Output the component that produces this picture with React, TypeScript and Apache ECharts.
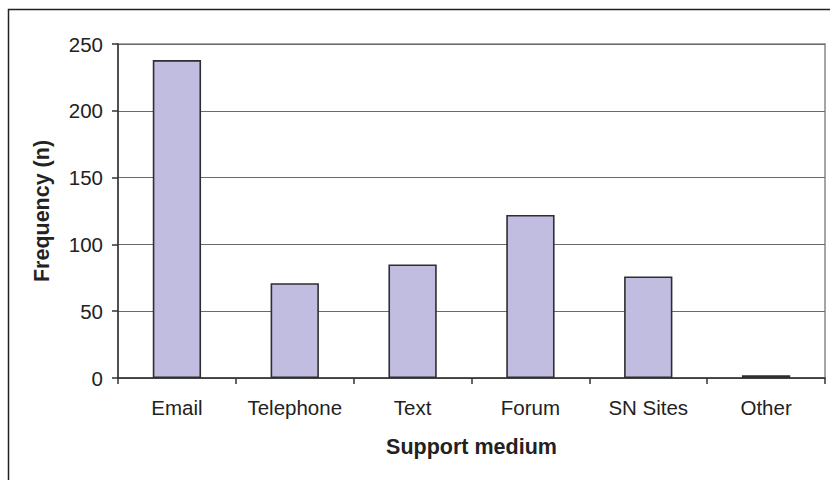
import React, { useEffect, useRef } from "react";
import * as echarts from "echarts";

const categories = ["Email", "Telephone", "Text", "Forum", "SN Sites", "Other"];
const frequency = [238, 71, 85, 122, 76, 2];
const yTicks = { min: 0, max: 250, interval: 50 };
const xTitle = "Support medium";
const yTitle = "Frequency (n)";

export default function App() {
  const ref = useRef<HTMLDivElement>(null);
  useEffect(() => {
    const chart = echarts.init(ref.current!, null, { renderer: "svg" });
    const font = "'Liberation Sans', Arial, sans-serif";
    chart.setOption({
      animation: false,
      backgroundColor: "#ffffff",
      textStyle: { fontFamily: font },
      grid: {
        left: 118,
        right: 5,
        top: 44,
        bottom: 102,
        show: true,
        borderColor: "#a6a6a6",
        borderWidth: 2,
        backgroundColor: "transparent",
      },
      graphic: [
        {
          type: "rect",
          shape: { x: 8.5, y: 9.5, width: 900, height: 600 },
          style: { fill: "none", stroke: "#222", lineWidth: 1.5 },
          silent: true,
        },
      ],
      xAxis: {
        type: "category",
        data: categories,
        name: xTitle,
        nameLocation: "middle",
        nameGap: 58,
        nameTextStyle: { fontSize: 21.5, fontWeight: "bold", color: "#222", fontFamily: font },
        axisLine: { show: true, lineStyle: { color: "#333", width: 1.5 } },
        axisTick: { show: true, interval: 0, length: 6, alignWithLabel: false, lineStyle: { color: "#333", width: 1.5 } },
        axisLabel: { interval: 0, hideOverlap: false, fontSize: 20.5, color: "#222", margin: 19, fontFamily: font },
        splitLine: { show: false },
      },
      yAxis: {
        type: "value",
        min: yTicks.min,
        max: yTicks.max,
        interval: yTicks.interval,
        name: yTitle,
        nameLocation: "middle",
        nameGap: 65,
        nameTextStyle: { fontSize: 21.5, fontWeight: "bold", color: "#222", fontFamily: font },
        axisLine: { show: true, lineStyle: { color: "#333", width: 1.5 } },
        axisTick: { show: true, length: 6, lineStyle: { color: "#333", width: 1.5 } },
        axisLabel: { fontSize: 20.5, color: "#222", margin: 15, fontFamily: font },
        splitLine: { show: true, lineStyle: { color: "#6a6a6a", width: 1.2 } },
      },
      series: [
        {
          type: "bar",
          data: frequency,
          barWidth: "41%",
          itemStyle: { color: "#c0bde0", borderColor: "#2e2e2e", borderWidth: 1.6 },
        },
      ],
    });
    return () => chart.dispose();
  }, []);
  return <div ref={ref} style={{ width: 830, height: 480, position: "absolute", left: 0, top: 0 }} />;
}
